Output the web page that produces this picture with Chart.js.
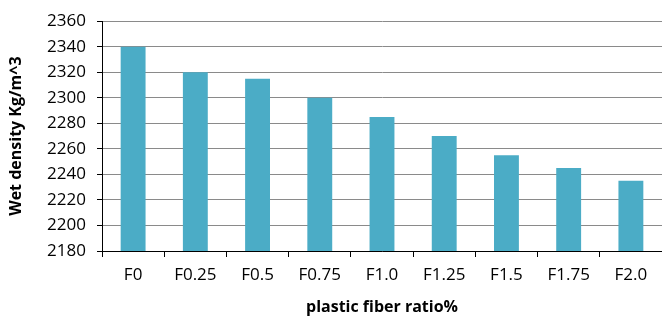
<!DOCTYPE html>
<html>
<head>
<meta charset="utf-8">
<script src="https://cdn.jsdelivr.net/npm/chart.js@4/dist/chart.umd.min.js"></script>
<style>
  html, body { margin: 0; padding: 0; background: #fff; }
  #wrap { width: 662px; height: 321px; }
</style>
</head>
<body>
<div id="wrap"><canvas id="c" width="662" height="321"></canvas></div>
<script>
// Wet density of mixes by plastic fiber ratio
const categories = ['F0', 'F0.25', 'F0.5', 'F0.75', 'F1.0', 'F1.25', 'F1.5', 'F1.75', 'F2.0'];
const wetDensity = [2340, 2320, 2315, 2300, 2285, 2270, 2255, 2245, 2235];
const yMin = 2180;
const yMax = 2360;
const yStep = 20;

const FONT = "'Open Sans', 'Liberation Sans', sans-serif";

new Chart(document.getElementById('c'), {
  type: 'bar',
  data: {
    labels: categories,
    datasets: [{
      data: wetDensity,
      backgroundColor: '#4bacc6',
      borderWidth: 0,
      barPercentage: 0.4,
      categoryPercentage: 1.0
    }]
  },
  options: {
    responsive: false,
    animation: false,
    layout: { padding: { left: 0, right: 0, top: 16, bottom: 0 } },
    plugins: { legend: { display: false }, tooltip: { enabled: false } },
    scales: {
      x: {
        afterFit: (s) => { s.height = 70; },
        grid: {
          offset: true,
          drawOnChartArea: false,
          tickLength: 6,
          tickColor: '#000'
        },
        border: { color: '#000', width: 1 },
        ticks: {
          color: '#000',
          padding: 8,
          font: { family: FONT, size: 17 },
          maxRotation: 0,
          autoSkip: false
        },
        title: {
          display: true,
          text: 'plastic fiber ratio%',
          color: '#000',
          font: { family: FONT, size: 16, weight: 'bold' },
          padding: { top: 0, bottom: 4 }
        }
      },
      y: {
        min: yMin,
        max: yMax,
        afterFit: (s) => { s.width = 102; },
        grid: {
          color: '#8a8a8a',
          lineWidth: 1,
          tickLength: 5,
          tickColor: '#000'
        },
        border: { color: '#000', width: 1 },
        ticks: {
          stepSize: yStep,
          color: '#000',
          padding: 11,
          font: { family: FONT, size: 17 },
          callback: (v) => String(v)
        },
        title: {
          display: true,
          text: 'Wet density Kg/m^3',
          color: '#000',
          font: { family: FONT, size: 16, weight: 'bold' },
          padding: { top: 7, bottom: 0 }
        }
      }
    }
  }
});
</script>
</body>
</html>
